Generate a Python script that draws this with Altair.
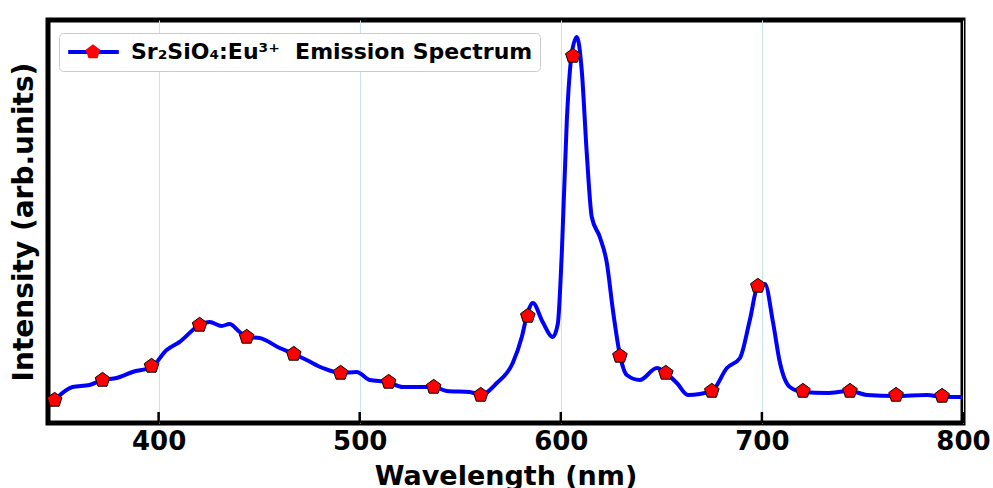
import altair as alt
import pandas as pd

# ---- data ----
wavelength = [348.3, 357.2, 365.7, 372.1, 379.1, 387.1, 396.5, 404.0, 410.4, 420.4,
              425.4, 431.3, 435.3, 440.3, 443.8, 450.2, 460.2, 467.2, 473.6, 481.6,
              490.5, 498.5, 505.0, 513.9, 521.4, 528.4, 536.8, 543.3, 554.7, 560.2,
              568.2, 576.1, 580.6, 583.1, 586.1, 591.0, 596.0, 598.5, 600.5, 603.0,
              605.5, 608.0, 610.4, 612.9, 615.4, 619.4, 622.9, 625.9, 629.4, 632.8,
              639.3, 647.8, 652.2, 657.7, 663.2, 675.1, 682.6, 689.1, 694.0, 698.0,
              701.5, 705.5, 709.0, 713.9, 720.4, 732.3, 743.8, 752.2, 766.7, 782.1,
              790.0, 799.5]
intensity = [23, 36, 38, 43, 45, 51, 56, 73, 81, 98,
             101, 97, 99, 91, 86, 85, 75, 69, 63, 55,
             50, 51, 43, 41, 36, 36, 36, 32, 31, 28,
             40, 60, 86, 107, 120, 101, 86, 99, 170, 303,
             370, 386, 353, 270, 206, 186, 160, 113, 68, 48,
             43, 55, 50, 40, 28, 32, 55, 65, 103, 137,
             139, 101, 60, 36, 31, 30, 32, 28, 27, 28,
             26, 26]

marker_wavelength = [348.3, 372.1, 396.5, 420.4, 443.8, 467.2, 490.5, 514.4, 536.8, 560.2,
                     583.6, 606.0, 629.4, 652.2, 675.1, 698.0, 720.4, 743.8, 766.7, 789.6]
marker_intensity = [23, 43, 57, 98, 86, 69, 50, 41, 36, 28,
                    107, 367, 67, 50, 32, 137, 32, 32, 28, 27]

x_ticks = [400, 500, 600, 700, 800]
series_label = "Sr₂SiO₄:Eu³⁺\u00a0 Emission Spectrum"

FONT = "DejaVu Sans"
PENTAGON = "M0,-1L0.951,-0.309L0.588,0.809L-0.588,0.809L-0.951,-0.309Z"
TICK_LEN = 11  # inward tick length, in intensity units

line_df = pd.DataFrame({"wavelength": wavelength, "intensity": intensity,
                        "series": series_label})
mk_df = pd.DataFrame({"wavelength": marker_wavelength, "intensity": marker_intensity,
                      "mk": "marker"})
tick_df = pd.DataFrame({"wavelength": x_ticks, "base": 0, "tip": TICK_LEN})

x_scale = alt.Scale(domain=[345, 800], nice=False, zero=False)
y_scale = alt.Scale(domain=[0, 403], nice=False, zero=False)

x_axis = alt.Axis(values=x_ticks, orient="bottom", ticks=False, domain=False,
                  grid=True, gridColor="#c8e4f3", gridWidth=1,
                  labelFont=FONT, labelFontSize=26, labelFontWeight="bold",
                  labelColor="black", labelPadding=5, labelFlush=False,
                  title="Wavelength (nm)", titleFont=FONT, titleFontSize=27,
                  titleFontWeight="bold", titleColor="black", titlePadding=9)
y_axis = alt.Axis(title="Intensity (arb.units)", labels=False, ticks=False, domain=False,
                  grid=False, titleFont=FONT, titleFontSize=28, titleFontWeight="bold",
                  titleColor="black", titlePadding=10)

# inward tick marks along the bottom
ticks = alt.Chart(tick_df).mark_rule(color="black", strokeWidth=2.5, opacity=1).encode(
    x=alt.X("wavelength:Q", scale=x_scale, axis=x_axis),
    y=alt.Y("base:Q", scale=y_scale, axis=y_axis),
    y2="tip:Q",
)

line = alt.Chart(line_df).mark_line(interpolate="monotone", strokeWidth=4).encode(
    x=alt.X("wavelength:Q", scale=x_scale, axis=x_axis),
    y=alt.Y("intensity:Q", scale=y_scale, axis=y_axis),
    stroke=alt.Stroke("series:N", scale=alt.Scale(domain=[series_label], range=["blue"]),
                      legend=alt.Legend(title=None, orient="none", legendX=11, legendY=13,
                                        padding=7, clipHeight=24, cornerRadius=4,
                                        fillColor="white", strokeColor="#cccccc",
                                        symbolType="stroke", symbolStrokeColor="blue",
                                        symbolStrokeWidth=4, symbolSize=2560,
                                        labelFont=FONT, labelFontSize=22,
                                        labelFontWeight="bold", labelColor="black",
                                        labelOffset=10, labelLimit=800)),
)

points = alt.Chart(mk_df).mark_point(filled=True, fill="red", stroke="black",
                                     strokeWidth=1, size=235, opacity=1).encode(
    x=alt.X("wavelength:Q", scale=x_scale, axis=x_axis),
    y=alt.Y("intensity:Q", scale=y_scale, axis=y_axis),
    shape=alt.Shape("mk:N", scale=alt.Scale(domain=["marker"], range=[PENTAGON]),
                    legend=alt.Legend(title=None, orient="none", legendX=11, legendY=13,
                                      padding=7, clipHeight=24, symbolOffset=16,
                                      symbolFillColor="red", symbolStrokeColor="black",
                                      symbolStrokeWidth=1, symbolSize=235,
                                      labelFontSize=22, labelExpr="''")),
)

chart = alt.layer(line, points, ticks).properties(
    width=915, height=403,
    autosize=alt.AutoSizeParams(type="none"),
    padding={"left": 48, "top": 20, "right": 30, "bottom": 65},
    background="white",
).configure_view(stroke="black", strokeWidth=5)

chart.save("out.html", embed_options={"renderer": "svg", "actions": False})
